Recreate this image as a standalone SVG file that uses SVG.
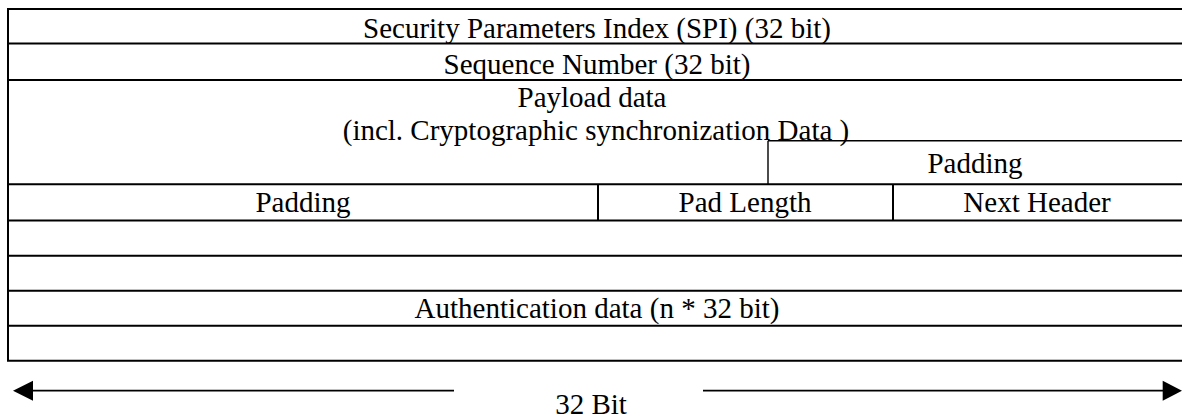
<svg xmlns="http://www.w3.org/2000/svg" width="1182" height="419" viewBox="0 0 1182 419">
<style>
.t{font-family:"Liberation Serif","Times New Roman",serif;font-size:29px;fill:#000;text-anchor:middle}
.ln{stroke:#000;stroke-width:2;fill:none}
.th{stroke:#000;stroke-width:1.4;fill:none}
.ar{stroke:#000;stroke-width:1.8}
</style>
<rect width="1182" height="419" fill="#fff"/>
<g id="table">
<path class="ln" d="M8,9H1184M8,43.5H1184M8,80H1184M8,184.3H1184M8,220.5H1184M8,255.8H1184M8,290.8H1184M8,325.8H1184M8,360.8H1184M8,8V361.8"/>
<path class="th" d="M768,140.8H1184M768,140.8V184.3"/>
<path class="ln" d="M598,184.3V220.5M893,184.3V220.5"/>
</g>
<g id="spi"><text class="t" x="597" y="37.5">Security Parameters Index (SPI) (32 bit)</text></g>
<g id="seq"><text class="t" x="597" y="73.5">Sequence Number (32 bit)</text></g>
<g id="payload">
<text class="t" x="592" y="107">Payload data</text>
<text class="t" x="596" y="139.5">(incl. Cryptographic synchronization Data )</text>
</g>
<g id="padding1"><text class="t" x="975" y="172.5">Padding</text></g>
<g id="padding2"><text class="t" x="303" y="212">Padding</text></g>
<g id="padlen"><text class="t" x="745" y="212">Pad Length</text></g>
<g id="nexthdr"><text class="t" x="1037" y="212">Next Header</text></g>
<g id="auth"><text class="t" x="597" y="318">Authentication data (n * 32 bit)</text></g>
<g id="connectors">
<line class="ar" x1="32" y1="390.7" x2="454" y2="390.7"/>
<polygon points="13,390.7 33,380.7 33,400.7" fill="#000"/>
<line class="ar" x1="703" y1="390.7" x2="1164" y2="390.7"/>
<polygon points="1182,390.7 1162.7,380.7 1162.7,400.7" fill="#000"/>
</g>
<g id="width-label"><text class="t" x="591" y="414">32 Bit</text></g>
</svg>
